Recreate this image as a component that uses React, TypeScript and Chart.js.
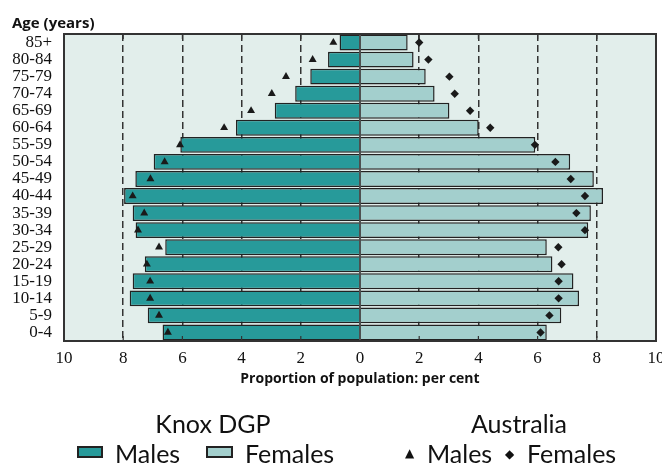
import React, { useEffect, useRef } from "react";
import { Chart, registerables } from "chart.js";

Chart.register(...registerables);

const ageGroups = ["85+", "80-84", "75-79", "70-74", "65-69", "60-64", "55-59", "50-54", "45-49", "40-44", "35-39", "30-34", "25-29", "20-24", "15-19", "10-14", "5-9", "0-4"];
const knoxMales = [0.69, 1.08, 1.68, 2.19, 2.88, 4.19, 6.07, 6.97, 7.59, 7.97, 7.68, 7.58, 6.58, 7.27, 7.68, 7.78, 7.17, 6.67];
const knoxFemales = [1.61, 1.81, 2.22, 2.52, 3.02, 4.01, 5.92, 7.1, 7.9, 8.21, 7.8, 7.71, 6.31, 6.5, 7.21, 7.4, 6.8, 6.31];
const ausMales = [0.9, 1.6, 2.5, 2.98, 3.68, 4.59, 6.08, 6.6, 7.08, 7.68, 7.29, 7.5, 6.79, 7.2, 7.09, 7.09, 6.79, 6.49];
const ausFemales = [2.0, 2.31, 3.02, 3.2, 3.72, 4.4, 5.91, 6.6, 7.12, 7.6, 7.31, 7.6, 6.7, 6.81, 6.71, 6.71, 6.4, 6.1];
const xTickValues = [-10, -8, -6, -4, -2, 0, 2, 4, 6, 8, 10];

const TEAL = "#279a9a";
const LIGHT = "#a3cfcd";
const BG = "#e2eeeb";
const INK = "#222222";

const framePlugin = {
  id: "frame",
  beforeDraw(chart: any) {
    const { ctx, chartArea: a } = chart;
    ctx.save();
    ctx.fillStyle = BG;
    ctx.fillRect(a.left, a.top, a.right - a.left, a.bottom - a.top);
    ctx.restore();
  },
  afterDraw(chart: any) {
    const { ctx, chartArea: a } = chart;
    const xs = chart.scales.x;
    ctx.save();
    ctx.strokeStyle = "#333";
    ctx.lineWidth = 1.2;
    xTickValues.forEach((v) => {
      if (Math.abs(v) === 10 || v === 0) return;
      const px = xs.getPixelForValue(v);
      ctx.beginPath();
      ctx.moveTo(px, a.bottom);
      ctx.lineTo(px, a.bottom - 5);
      ctx.moveTo(px, a.top);
      ctx.lineTo(px, a.top + 5);
      ctx.stroke();
    });
    const zero = xs.getPixelForValue(0);
    ctx.lineWidth = 1.6;
    ctx.strokeStyle = "#2a2a2a";
    ctx.beginPath();
    ctx.moveTo(zero, a.top);
    ctx.lineTo(zero, a.bottom);
    ctx.stroke();
    ctx.lineWidth = 2;
    ctx.strokeStyle = "#333";
    ctx.strokeRect(a.left, a.top, a.right - a.left, a.bottom - a.top);
    ctx.restore();
  },
};

function PyramidChart() {
  const ref = useRef<HTMLCanvasElement | null>(null);
  useEffect(() => {
    if (!ref.current) return;
    const chart = new Chart(ref.current, {
      type: "bar",
      data: {
        labels: ageGroups,
        datasets: [
          {
            type: "line",
            label: "Australia Males",
            data: ausMales.map((v) => -v),
            indexAxis: "y",
            showLine: false,
            pointStyle: "triangle",
            pointRadius: 4.6,
            pointBackgroundColor: "#1a1a1a",
            pointBorderColor: "#1a1a1a",
            pointBorderWidth: 0,
            order: 0,
          } as any,
          {
            type: "line",
            label: "Australia Females",
            data: ausFemales,
            indexAxis: "y",
            showLine: false,
            pointStyle: "rectRot",
            pointRadius: 4.2,
            pointBackgroundColor: "#1a1a1a",
            pointBorderColor: "#1a1a1a",
            pointBorderWidth: 0,
            order: 0,
          } as any,
          {
            type: "bar",
            label: "Knox Males",
            data: knoxMales.map((v) => -v),
            backgroundColor: TEAL,
            borderColor: INK,
            borderWidth: 1.5,
            borderSkipped: "start",
            barPercentage: 1,
            categoryPercentage: 0.93,
            grouped: false,
            order: 2,
          } as any,
          {
            type: "bar",
            label: "Knox Females",
            data: knoxFemales,
            backgroundColor: LIGHT,
            borderColor: INK,
            borderWidth: 1.5,
            borderSkipped: "start",
            barPercentage: 1,
            categoryPercentage: 0.93,
            grouped: false,
            order: 2,
          } as any,
        ],
      },
      options: {
        indexAxis: "y",
        animation: false,
        responsive: false,
        maintainAspectRatio: false,
        layout: { padding: { left: 0, right: 6, top: 34, bottom: 0 } },
        plugins: {
          legend: { display: false },
          tooltip: { enabled: false },
          title: { display: false },
        },
        scales: {
          x: {
            type: "linear",
            min: -10,
            max: 10,
            afterBuildTicks: (s: any) => {
              s.ticks = xTickValues.map((v) => ({ value: v }));
            },
            afterFit: (s: any) => {
              s.height = 125;
              s.paddingLeft = 0;
              s.paddingRight = 0;
            },
            ticks: {
              autoSkip: false,
              maxRotation: 0,
              padding: 7,
              color: "#111",
              font: { family: "'Liberation Serif', serif", size: 17 },
              callback: (v: any) => String(Math.abs(Number(v))),
            },
            grid: {
              drawTicks: false,
              lineWidth: 1.5,
              color: (c: any) => {
                const v = c.tick ? c.tick.value : 0;
                return v === 0 || Math.abs(v) === 10 ? "rgba(0,0,0,0)" : "#333";
              },
            },
            border: { display: false, dash: [7, 4] },
          },
          y: {
            type: "category",
            afterFit: (s: any) => {
              s.width = 64;
              s.paddingTop = 0;
              s.paddingBottom = 0;
            },
            ticks: {
              padding: 12,
              color: "#111",
              autoSkip: false,
              font: { family: "'Liberation Serif', serif", size: 17 },
            },
            grid: { display: false, drawTicks: false },
            border: { display: false },
          },
        },
      },
      plugins: [framePlugin],
    } as any);
    return () => chart.destroy();
  }, []);
  return <canvas ref={ref} width={662} height={466} style={{ position: "absolute", left: 0, top: 0, width: 662, height: 466 }} />;
}

const sans = "'Open Sans', sans-serif";
const legendFont = "Lato, sans-serif";

export default function App() {
  const abs = (extra: React.CSSProperties): React.CSSProperties => ({
    position: "absolute",
    whiteSpace: "nowrap",
    lineHeight: 1,
    color: "#111",
    ...extra,
  });
  return (
    <div style={{ position: "absolute", left: 0, top: 0, width: 662, height: 466, background: "#fff", overflow: "hidden" }}>
      <PyramidChart />
      <div style={abs({ left: 12, top: 15, fontFamily: sans, fontWeight: 700, fontSize: 15 })}>Age (years)</div>
      <div style={abs({ left: 160, width: 400, top: 371, textAlign: "center", fontFamily: sans, fontWeight: 700, fontSize: 14 })}>
        Proportion of population: per cent
      </div>
      <div style={abs({ left: 113, width: 200, top: 411, textAlign: "center", fontFamily: legendFont, fontSize: 25 })}>Knox DGP</div>
      <div style={abs({ left: 419, width: 200, top: 411, textAlign: "center", fontFamily: legendFont, fontSize: 25 })}>Australia</div>
      <div style={{ position: "absolute", left: 77, top: 446, width: 26, height: 12, boxSizing: "border-box", border: `2px solid ${INK}`, background: TEAL }} />
      <div style={abs({ left: 115, top: 441, fontFamily: legendFont, fontSize: 25 })}>Males</div>
      <div style={{ position: "absolute", left: 206, top: 446, width: 27, height: 12, boxSizing: "border-box", border: `2px solid ${INK}`, background: LIGHT }} />
      <div style={abs({ left: 245, top: 441, fontFamily: legendFont, fontSize: 25 })}>Females</div>
      <div style={abs({ left: 405, top: 447, fontFamily: "'DejaVu Sans', sans-serif", fontSize: 12 })}>▲</div>
      <div style={abs({ left: 427, top: 441, fontFamily: legendFont, fontSize: 25 })}>Males</div>
      <div style={abs({ left: 505, top: 448, fontFamily: "'DejaVu Sans', sans-serif", fontSize: 12 })}>◆</div>
      <div style={abs({ left: 527, top: 441, fontFamily: legendFont, fontSize: 25 })}>Females</div>
    </div>
  );
}
